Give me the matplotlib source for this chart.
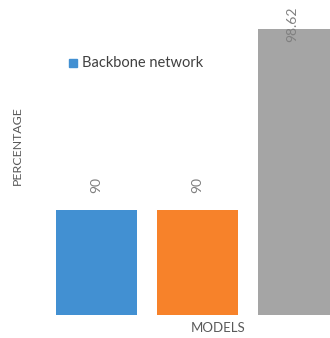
import matplotlib
matplotlib.use("Agg")
import matplotlib.pyplot as plt

models = ["Model A", "Model B", "Model C"]
values = [90, 90, 98.62]
value_labels = ["90", "90", "98.62"]
bar_colors = ["#4290D2", "#F7822A", "#A5A5A5"]
legend_label = "Backbone network"
x_title = "MODELS"
y_title = "PERCENTAGE"

plt.rcParams["font.family"] = ["Lato", "DejaVu Sans"]

W, H = 330, 338
fig = plt.figure(figsize=(W / 100, H / 100), dpi=100)

# plot area: left 46px, bottom 315px from top, extends past the right edge
left_px, right_px, top_px, bot_px = 46, 330, 0, 315
ax = fig.add_axes([left_px / W, (H - bot_px) / H,
                   (right_px - left_px) / W, (bot_px - top_px) / H])
ax.set_xlim(-0.5, -0.5 + (right_px - left_px) / 101.0)
ax.set_ylim(85, 100)

xs = list(range(len(values)))
bars = ax.bar(xs, values, width=0.8, color=bar_colors, linewidth=0)

for i, (x, v, lab) in enumerate(zip(xs, values, value_labels)):
    if v > 97:
        # too tall for a label above: pin it to the top of the plot
        ax.annotate(lab, xy=(x - 0.06, 1.0), xycoords=("data", "axes fraction"),
                    xytext=(0, -5), textcoords="offset points",
                    rotation=90, ha="center", va="top",
                    fontsize=10, color="#808080")
    else:
        ax.annotate(lab, xy=(x, v), xytext=(0, 12.5), textcoords="offset points",
                    rotation=90, ha="center", va="bottom",
                    fontsize=10, color="#808080")

for s in ax.spines.values():
    s.set_visible(False)
ax.set_xticks([])
ax.set_yticks([])

# legend entry
fig.patches.append(plt.Rectangle((69 / W, 1 - 67 / H), 8 / W, 8 / H,
                                 transform=fig.transFigure, color=bar_colors[0]))
fig.text(82 / W, 1 - 63 / H, legend_label, ha="left", va="center",
         fontsize=10.5, color="#404040")

fig.text(218 / W, 1 - 327.5 / H, x_title, ha="center", va="center",
         fontsize=9.5, color="#595959")
fig.text(17 / W, 1 - 146 / H, y_title, ha="center", va="center",
         rotation=90, fontsize=8.9, color="#595959")

fig.savefig("out.png", dpi=100)
